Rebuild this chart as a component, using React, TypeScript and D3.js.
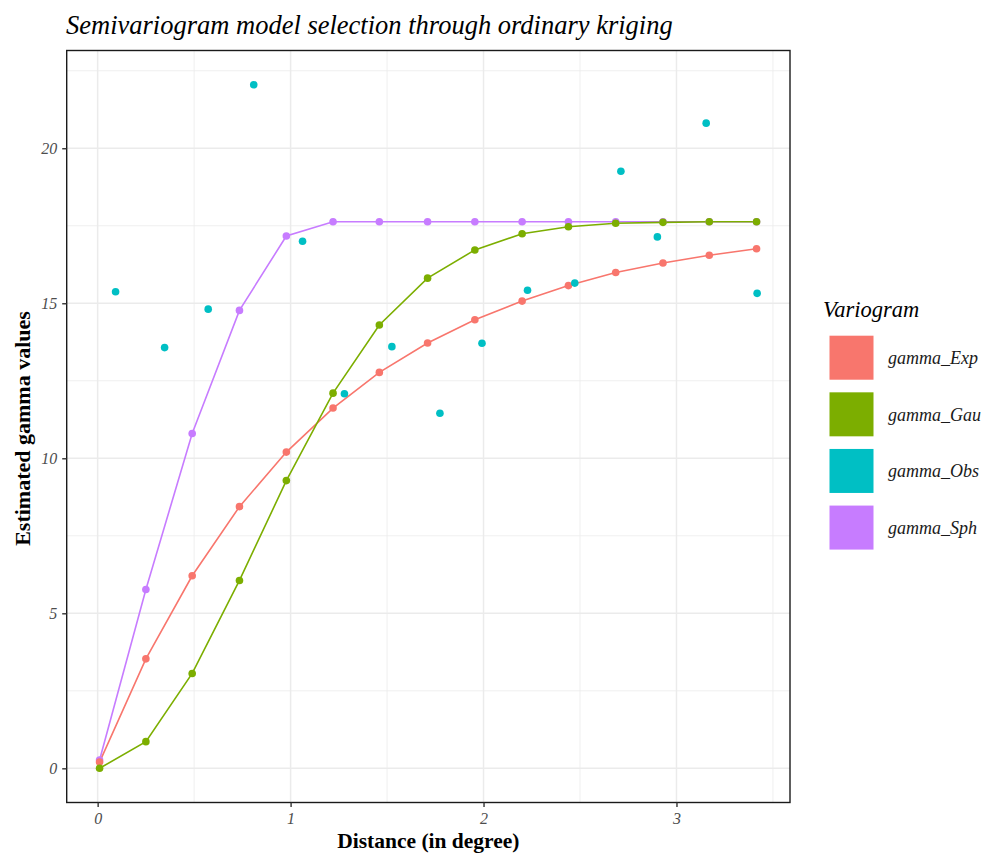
import { useEffect, useRef } from 'react'
import * as d3 from 'd3'

// lag distances of the fitted models (degree)
const lagDist = [0.01, 0.25, 0.49, 0.735, 0.978, 1.22, 1.46, 1.71, 1.955, 2.2, 2.44, 2.685, 2.93, 3.17, 3.415]
const gammaExp = [0.2, 3.53, 6.21, 8.44, 10.2, 11.62, 12.77, 13.72, 14.47, 15.07, 15.57, 15.99, 16.3, 16.55, 16.76]
const gammaGau = [0, 0.86, 3.06, 6.06, 9.28, 12.1, 14.3, 15.81, 16.72, 17.24, 17.47, 17.58, 17.61, 17.63, 17.63]
const gammaSph = [0.27, 5.77, 10.8, 14.77, 17.17, 17.63, 17.63, 17.63, 17.63, 17.63, 17.63, 17.63, 17.63, 17.63, 17.63]

// empirical semivariogram
const obsDist = [0.093, 0.347, 0.573, 0.809, 1.062, 1.279, 1.525, 1.774, 1.992, 2.228, 2.473, 2.712, 2.901, 3.154, 3.418]
const gammaObs = [15.37, 13.57, 14.81, 22.05, 17.0, 12.08, 13.6, 11.45, 13.71, 15.42, 15.65, 19.26, 17.14, 20.81, 15.32]

const seriesNames = ['gamma_Exp', 'gamma_Gau', 'gamma_Obs', 'gamma_Sph']
const seriesColors = ['#F8766D', '#7CAE00', '#00BFC4', '#C77CFF']

const xTicks = [0, 1, 2, 3]
const yTicks = [0, 5, 10, 15, 20]

interface Pt { x: number; y: number }

const FONT = '"Liberation Serif", "Times New Roman", serif'

export default function App() {
  const svgRef = useRef<SVGSVGElement>(null)

  useEffect(() => {
    if (!svgRef.current) return
    const width = 982
    const height = 854
    const m = { top: 50.5, right: 192, bottom: 51.5, left: 66.7 }
    const iW = width - m.left - m.right
    const iH = height - m.top - m.bottom

    const svg = d3.select(svgRef.current)
    svg.selectAll('*').remove()
    svg.attr('width', width).attr('height', height)
    svg.append('rect').attr('width', width).attr('height', height).attr('fill', '#fff')

    // ggplot style 5% expansion
    const allX = [...lagDist, ...obsDist]
    const allY = [...gammaExp, ...gammaGau, ...gammaSph, ...gammaObs]
    const [x0, x1] = d3.extent(allX) as [number, number]
    const [y0, y1] = d3.extent(allY) as [number, number]
    const xs = d3.scaleLinear().domain([x0 - (x1 - x0) * 0.05, x1 + (x1 - x0) * 0.05]).range([0, iW])
    const ys = d3.scaleLinear().domain([y0 - (y1 - y0) * 0.05, y1 + (y1 - y0) * 0.05]).range([iH, 0])

    const g = svg.append('g').attr('transform', `translate(${m.left},${m.top})`)

    // grid
    const minorX = xTicks.map(d => d + 0.5).filter(d => d <= xs.domain()[1])
    const minorY = yTicks.map(d => d + 2.5).filter(d => d <= ys.domain()[1])
    g.append('g').selectAll('line').data(minorX).enter().append('line')
      .attr('x1', d => xs(d)).attr('x2', d => xs(d)).attr('y1', 0).attr('y2', iH)
      .attr('stroke', '#EBEBEB').attr('stroke-width', 0.8)
    g.append('g').selectAll('line').data(minorY).enter().append('line')
      .attr('x1', 0).attr('x2', iW).attr('y1', d => ys(d)).attr('y2', d => ys(d))
      .attr('stroke', '#EBEBEB').attr('stroke-width', 0.8)
    g.append('g').selectAll('line').data(xTicks).enter().append('line')
      .attr('x1', d => xs(d)).attr('x2', d => xs(d)).attr('y1', 0).attr('y2', iH)
      .attr('stroke', '#EBEBEB').attr('stroke-width', 1.5)
    g.append('g').selectAll('line').data(yTicks).enter().append('line')
      .attr('x1', 0).attr('x2', iW).attr('y1', d => ys(d)).attr('y2', d => ys(d))
      .attr('stroke', '#EBEBEB').attr('stroke-width', 1.5)

    const toPts = (xv: number[], yv: number[]): Pt[] => xv.map((x, i) => ({ x, y: yv[i] }))
    const line = d3.line<Pt>().x(d => xs(d.x)).y(d => ys(d.y))

    // draw order: Sph, Exp, Gau (lines + points), then observations
    const models: [number[], string][] = [
      [gammaSph, seriesColors[3]],
      [gammaExp, seriesColors[0]],
      [gammaGau, seriesColors[1]],
    ]
    models.forEach(([vals, col]) => {
      g.append('path').datum(toPts(lagDist, vals))
        .attr('fill', 'none').attr('stroke', col).attr('stroke-width', 1.6)
        .attr('d', line)
    })
    models.forEach(([vals, col]) => {
      g.append('g').selectAll('circle').data(toPts(lagDist, vals)).enter().append('circle')
        .attr('cx', d => xs(d.x)).attr('cy', d => ys(d.y)).attr('r', 3.8).attr('fill', col)
    })
    g.append('g').selectAll('circle').data(toPts(obsDist, gammaObs)).enter().append('circle')
      .attr('cx', d => xs(d.x)).attr('cy', d => ys(d.y)).attr('r', 3.8).attr('fill', seriesColors[2])

    // panel border
    g.append('rect').attr('width', iW).attr('height', iH).attr('fill', 'none')
      .attr('stroke', '#1a1a1a').attr('stroke-width', 1.4)

    // axes
    const styleAxis = (ax: d3.Selection<SVGGElement, unknown, null, undefined>) => {
      ax.select('.domain').remove()
      ax.selectAll('.tick line').attr('stroke', '#333333').attr('stroke-width', 1.4)
      ax.selectAll('.tick text').attr('fill', '#4D4D4D').attr('font-size', '16px')
        .attr('font-family', FONT).attr('font-style', 'italic')
    }
    g.append('g').attr('transform', `translate(0,${iH})`)
      .call(d3.axisBottom(xs).tickValues(xTicks).tickSize(4.5).tickPadding(6).tickFormat(d => `${d}`))
      .call(styleAxis)
    g.append('g')
      .call(d3.axisLeft(ys).tickValues(yTicks).tickSize(4.5).tickPadding(5).tickFormat(d => `${d}`))
      .call(styleAxis)

    // axis titles
    svg.append('text').attr('x', m.left + iW / 2).attr('y', 848).attr('text-anchor', 'middle')
      .attr('font-family', FONT).attr('font-weight', 'bold').attr('font-size', '21.5px').attr('fill', '#000')
      .text('Distance (in degree)')
    svg.append('text').attr('transform', `translate(30,${m.top + iH / 2 + 2}) rotate(-90)`).attr('text-anchor', 'middle')
      .attr('font-family', FONT).attr('font-weight', 'bold').attr('font-size', '22px').attr('fill', '#000')
      .text('Estimated gamma values')

    // title
    svg.append('text').attr('x', 66).attr('y', 34)
      .attr('font-family', FONT).attr('font-style', 'italic').attr('font-size', '26.5px').attr('fill', '#000')
      .text('Semivariogram model selection through ordinary kriging')

    // legend
    const lg = svg.append('g').attr('transform', 'translate(823,0)')
    lg.append('text').attr('x', 0).attr('y', 317)
      .attr('font-family', FONT).attr('font-style', 'italic').attr('font-size', '22.5px').attr('fill', '#000')
      .text('Variogram')
    const keyY = d3.scaleBand<string>().domain(seriesNames).range([333.5, 560]).paddingInner(0)
    seriesNames.forEach((name, i) => {
      const y = keyY(name)!
      lg.append('rect').attr('x', 6.5).attr('y', y + 2.2).attr('width', 44).attr('height', 44)
        .attr('fill', seriesColors[i])
      lg.append('text').attr('x', 65).attr('y', y + 24.2).attr('dy', '0.35em')
        .attr('font-family', FONT).attr('font-style', 'italic').attr('font-size', '18px').attr('fill', '#1a1a1a')
        .text(name)
    })
  }, [])

  return (
    <div style={{ position: 'absolute', left: 0, top: 0 }}>
      <svg ref={svgRef} style={{ display: 'block' }} />
    </div>
  )
}
